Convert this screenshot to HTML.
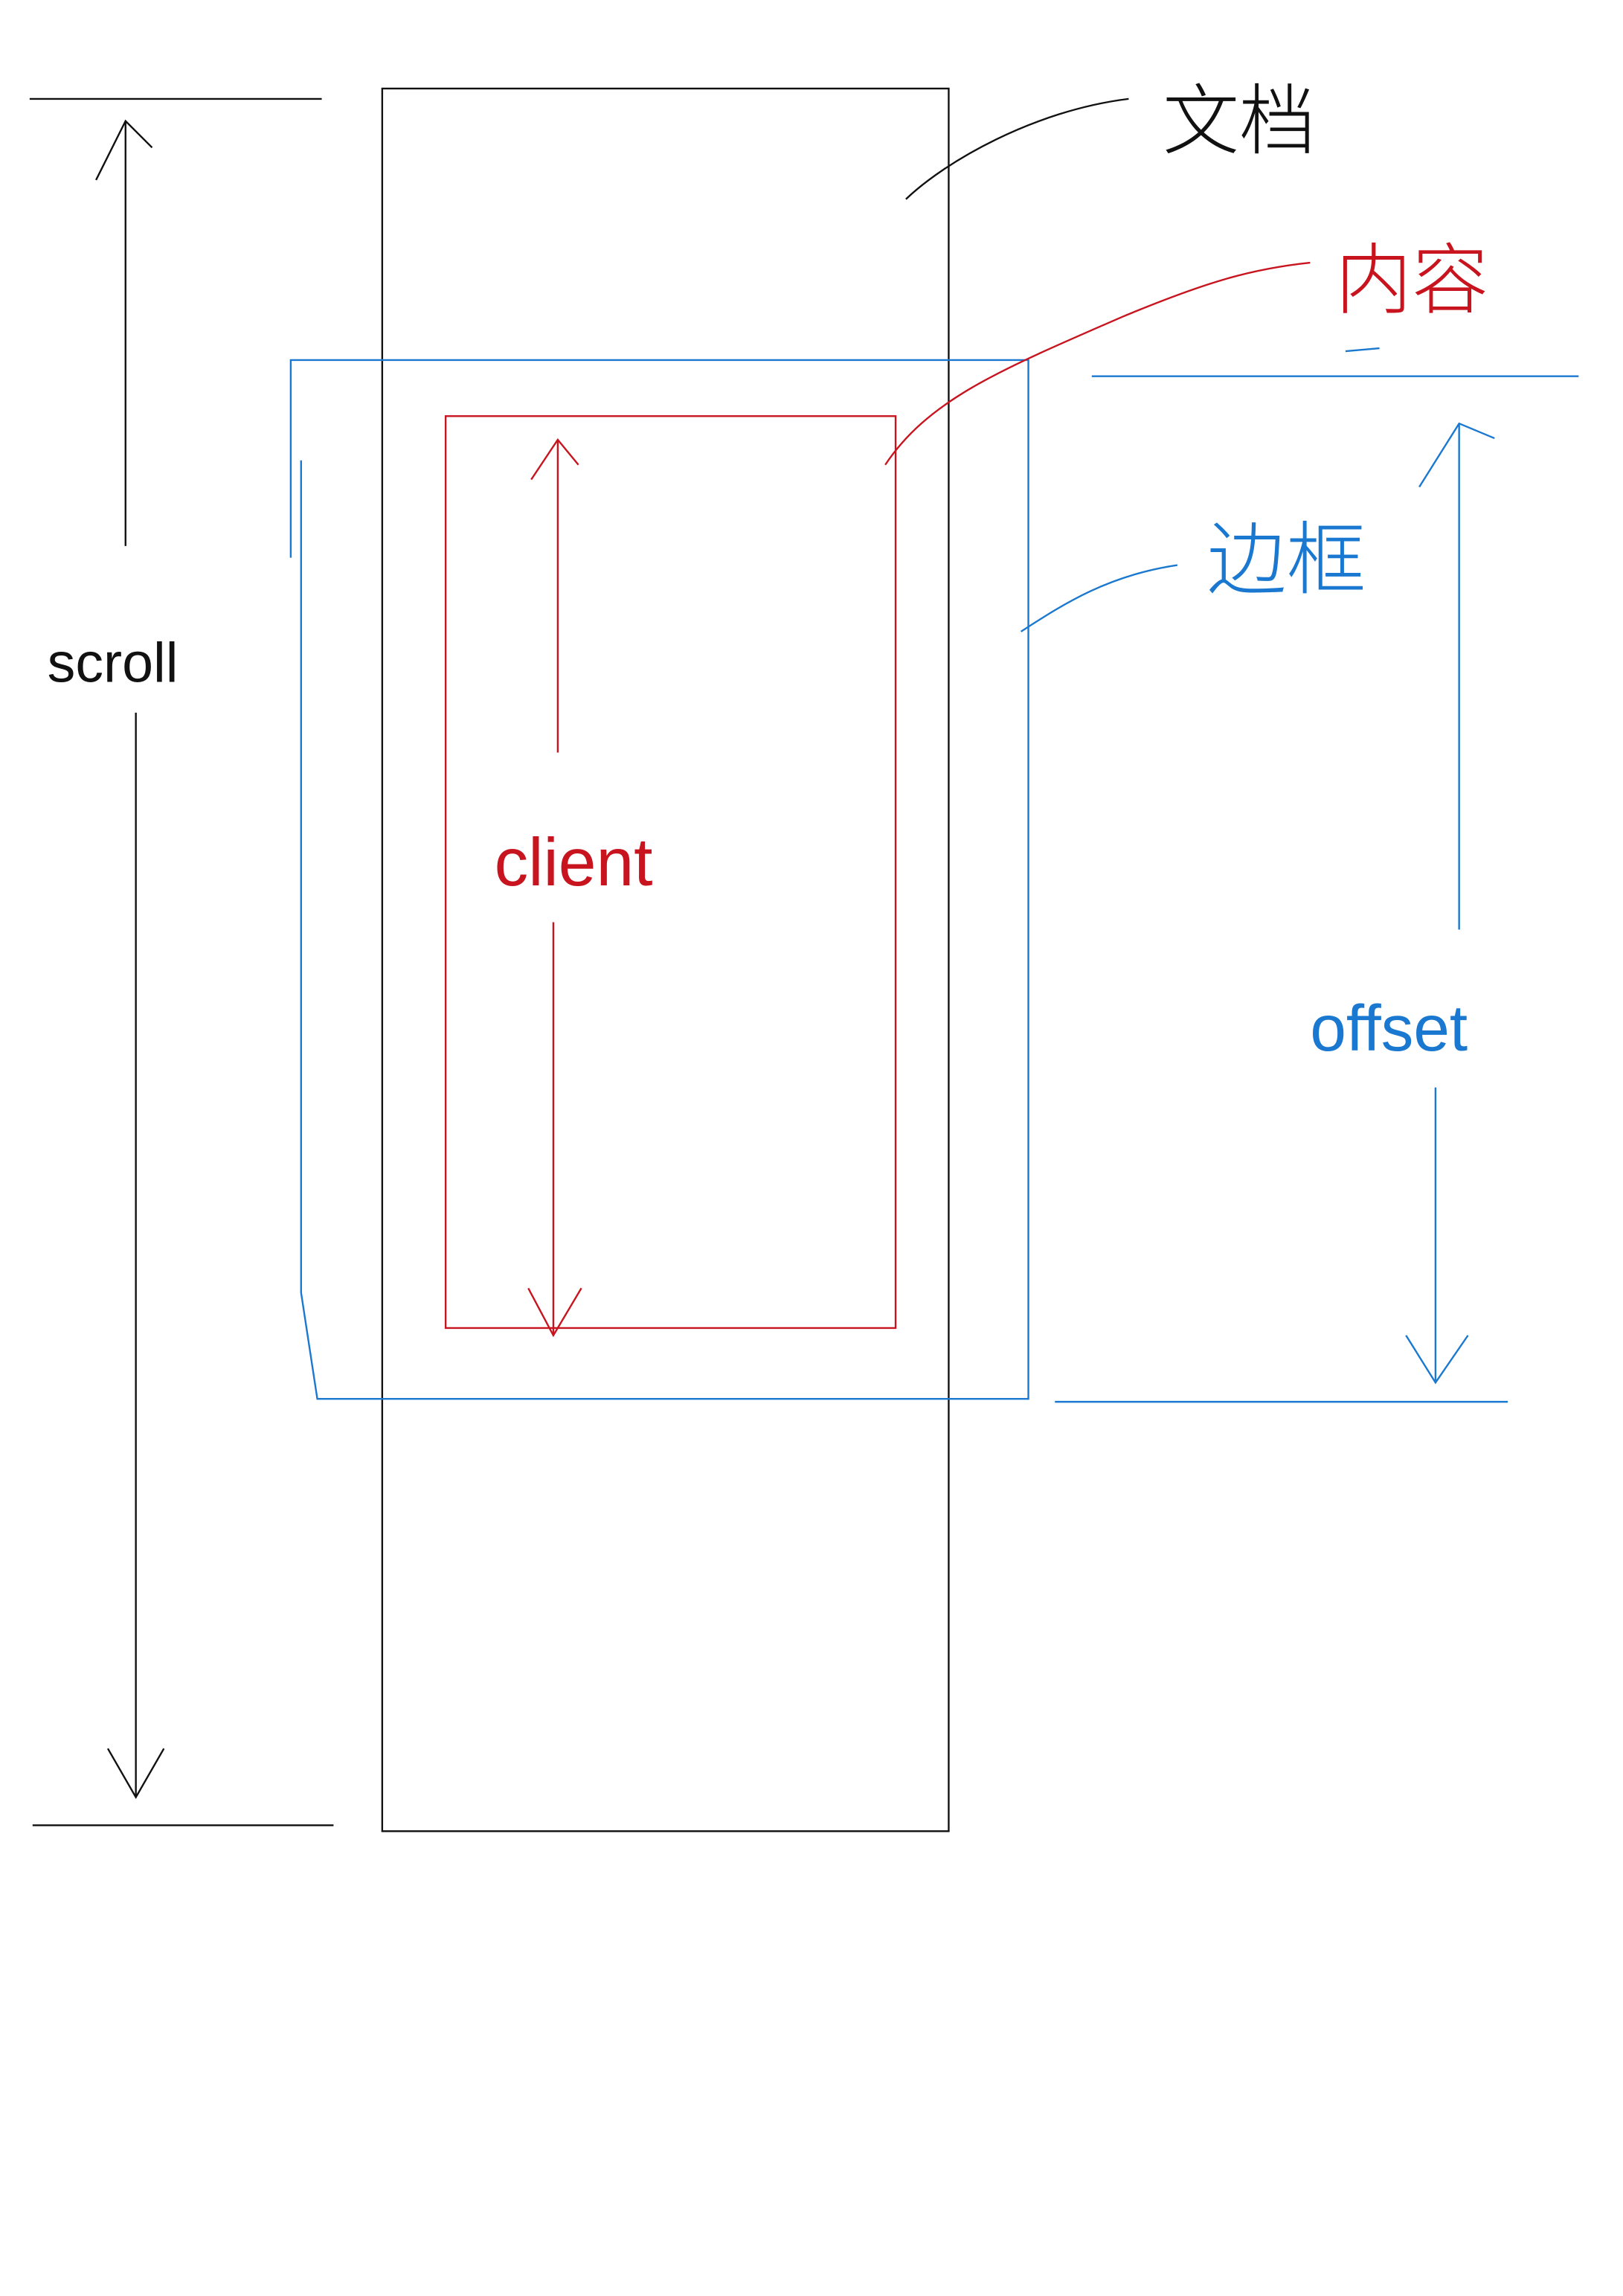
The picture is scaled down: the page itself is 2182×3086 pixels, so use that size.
<!DOCTYPE html>
<html><head><meta charset="utf-8"><style>
html,body{margin:0;padding:0;background:#fff}
svg{display:block}
text{font-family:"Liberation Sans","Noto Sans CJK SC",sans-serif;font-weight:300}
</style></head><body>
<svg width="2182" height="3086" viewBox="0 0 1100 1556" xmlns="http://www.w3.org/2000/svg">
<rect width="1100" height="1556" fill="#fff"/>
<g fill="none" stroke="#111" stroke-width="1.2">
  <rect x="259" y="60" width="384" height="1181"/>
  <line x1="20" y1="67" x2="218" y2="67"/>
  <line x1="22" y1="1237" x2="226" y2="1237"/>
  <line x1="85" y1="370" x2="85" y2="82"/>
  <polyline points="65,122 85,82 103,100"/>
  <line x1="92" y1="483" x2="92" y2="1218"/>
  <polyline points="73,1185 92,1218 111,1185"/>
  <path d="M614,135 C640,110 700,75 765,67"/>
</g>
<text x="32" y="462" font-size="38" fill="#111">scroll</text>
<text x="788" y="100" font-size="52" fill="#111">文档</text>

<g fill="none" stroke="#1a78d0" stroke-width="1.2">
  <polyline points="197,378 197,244 697,244 697,948 215,948 204,876 204,312"/>
  <line x1="740" y1="255" x2="1070" y2="255"/>
  <line x1="715" y1="950" x2="1022" y2="950"/>
  <line x1="989" y1="630" x2="989" y2="287"/>
  <polyline points="962,330 989,287 1013,297"/>
  <line x1="973" y1="737" x2="973" y2="937"/>
  <polyline points="953,905 973,937 995,905"/>
  <path d="M692,428 C720,410 750,390 798,383"/>
  <line x1="912" y1="238" x2="935" y2="236"/>
</g>
<text x="818" y="398" font-size="54" fill="#1a78d0">边框</text>
<text x="888" y="712" font-size="44" fill="#1a78d0">offset</text>

<g fill="none" stroke="#c8141e" stroke-width="1.2">
  <rect x="302" y="282" width="305" height="618"/>
  <line x1="378" y1="510" x2="378" y2="298"/>
  <polyline points="360,325 378,298 392,315"/>
  <line x1="375" y1="625" x2="375" y2="905"/>
  <polyline points="358,873 375,905 394,873"/>
  <path d="M600,315 C630,270 680,250 760,215 C820,190 850,182 888,178"/>
</g>
<text x="335" y="600" font-size="46" fill="#c8141e">client</text>
<text x="905" y="208" font-size="52" fill="#c8141e">内容</text>
</svg>
</body></html>
